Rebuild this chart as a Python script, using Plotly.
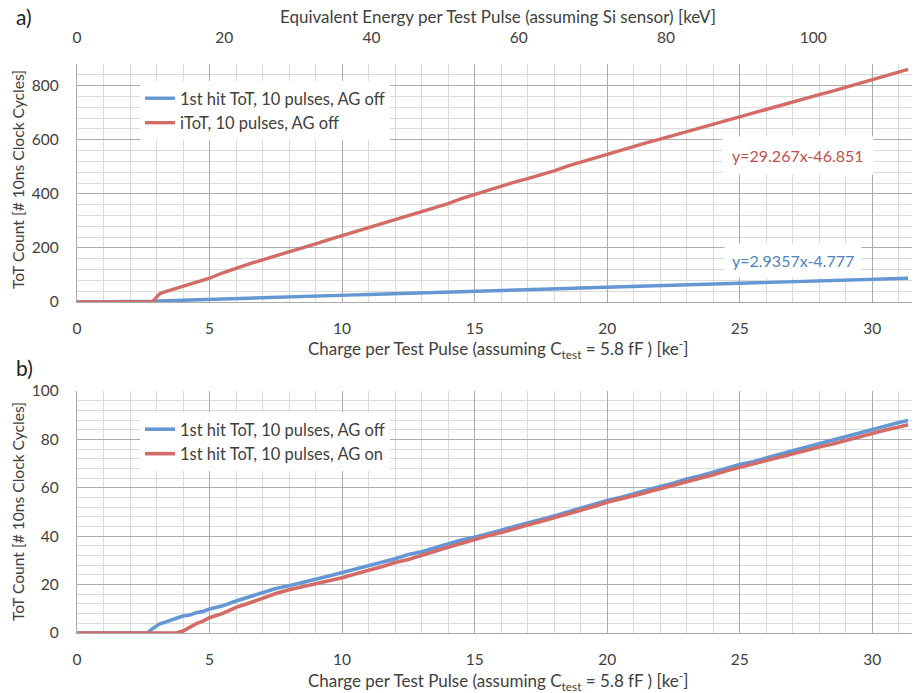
import plotly.graph_objects as go

# Charge per test pulse [ke-]
charge_ke = [0, 0.5, 1, 1.5, 2, 2.5, 2.65, 2.8, 2.9, 3.0, 3.1, 3.25, 3.5, 3.75, 4.0, 4.25, 4.5, 4.75, 5.0,
             5.5, 6.0, 6.5, 7.0, 7.5, 8.0, 8.5, 9.0, 9.5, 10.0, 10.5, 11.0, 11.5, 12.0, 12.5, 13.0, 13.5,
             14.0, 14.5, 15.0, 15.5, 16.0, 16.5, 17.0, 17.5, 18.0, 18.5, 19.0, 19.5, 20.0, 20.5, 21.0,
             21.5, 22.0, 22.5, 23.0, 23.5, 24.0, 24.5, 25.0, 25.5, 26.0, 26.5, 27.0, 27.5, 28.0, 28.5,
             29.0, 29.5, 30.0, 30.5, 31.0, 31.35]

# 1st hit ToT, 10 pulses, AG off
tot_first_ag_off = [0, 0, 0, 0, 0, 0, 0, 1.4, 2.3, 2.9, 3.7, 4.2, 5.3, 6.1, 7.0, 7.4, 8.4, 8.9, 9.9,
                    11.3, 13.2, 14.9, 16.4, 18.4, 19.5, 21.0, 22.2, 23.6, 25.0, 26.3, 27.5, 29.2, 30.7,
                    32.4, 33.6, 35.3, 36.8, 38.4, 39.6, 41.2, 42.5, 44.0, 45.6, 46.9, 48.4, 50.0, 51.5,
                    53.0, 54.8, 56.0, 57.6, 59.1, 60.5, 61.9, 63.6, 64.9, 66.5, 68.0, 69.6, 70.8, 72.4,
                    73.9, 75.3, 76.8, 78.3, 79.7, 81.2, 82.5, 84.2, 85.6, 87.0, 87.8]

# 1st hit ToT, 10 pulses, AG on
tot_first_ag_on = [0, 0, 0, 0, 0, 0, 0, 0, 0, 0, 0, 0, 0, 0, 0.8, 2.4, 3.9, 4.9, 6.3,
                   8.1, 10.6, 12.4, 14.5, 16.3, 17.9, 19.2, 20.6, 21.6, 22.8, 24.2, 25.9, 27.4, 29.1,
                   30.4, 32.2, 33.8, 35.4, 37.1, 38.6, 40.2, 41.5, 43.2, 44.6, 46.1, 47.6, 49.2, 50.6,
                   52.3, 54.0, 55.2, 56.7, 58.2, 59.6, 61.1, 62.5, 64.1, 65.4, 67.0, 68.5, 69.9, 71.3,
                   72.6, 74.1, 75.3, 76.9, 78.1, 79.6, 80.8, 82.5, 83.9, 85.1, 86.1]

# iToT, 10 pulses, AG off
itot_ag_off = [0, 0, 0, 0, 0, 0, 0, 0, 6, 19, 29, 36, 43, 50, 57, 64, 72, 80, 88,
               108, 126, 141, 156, 170, 184, 199, 215, 231, 246, 260, 275, 290, 304,
               318, 333, 349, 364, 382, 398, 412, 428, 443, 456, 470, 485, 502, 517,
               532, 546, 561, 576, 589, 602, 616, 630, 643, 657, 671, 685, 698, 712,
               726, 740, 753, 767, 780, 794, 807, 821, 835, 849, 860]

fit_itot_text = "y=29.267x-46.851"
fit_tot_text = "y=2.9357x-4.777"
fit_label_pos = {"itot": (27.2, 543), "tot": (27.0, 154)}

KEV_PER_KE = 3.6  # Si sensor: 3.6 eV per e-h pair
X_MAX = 31.5
Y_TOP_MAX = 880
Y_BOT_MAX = 100

BLUE = "#6497d3"
RED = "#d36b66"
FONT = "Lato"
TXT = "#404040"
MAJOR = "#ababab"
MINOR = "#dadada"

W, H = 915, 693
def px(x):
    return x / W
def py(y):
    return 1 - y / H

fig = go.Figure()

# top panel
fig.add_trace(go.Scatter(x=charge_ke, y=tot_first_ag_off, mode="lines", name="1st hit ToT, 10 pulses, AG off",
                         line=dict(color=BLUE, width=3.4), xaxis="x", yaxis="y", legend="legend",
                         legendgroup="a1"))
fig.add_trace(go.Scatter(x=charge_ke, y=itot_ag_off, mode="lines", name="iToT, 10 pulses, AG off",
                         line=dict(color=RED, width=3.4), xaxis="x", yaxis="y", legend="legend",
                         legendgroup="a2"))
# invisible trace on energy axis so that it is drawn
fig.add_trace(go.Scatter(x=[c * KEV_PER_KE for c in charge_ke], y=itot_ag_off, mode="lines",
                         line=dict(color="rgba(0,0,0,0)", width=0), xaxis="x2", yaxis="y",
                         showlegend=False, hoverinfo="skip"))
# bottom panel
fig.add_trace(go.Scatter(x=charge_ke, y=tot_first_ag_off, mode="lines", name="1st hit ToT, 10 pulses, AG off",
                         line=dict(color=BLUE, width=3.6), xaxis="x3", yaxis="y3", legend="legend2",
                         legendgroup="b1"))
fig.add_trace(go.Scatter(x=charge_ke, y=tot_first_ag_on, mode="lines", name="1st hit ToT, 10 pulses, AG on",
                         line=dict(color=RED, width=3.6), xaxis="x3", yaxis="y3", legend="legend2",
                         legendgroup="b2"))

xdom = [px(77), px(912)]
top_dom = [py(302), py(64)]
bot_dom = [py(633), py(391)]

tickfont = dict(family=FONT, size=15.5, color=TXT)

def xax(dom_anchor):
    return dict(domain=xdom, anchor=dom_anchor, range=[0, X_MAX], tickmode="linear", tick0=0, dtick=5,
                showgrid=True, gridcolor=MAJOR, gridwidth=1.3,
                minor=dict(dtick=1, showgrid=True, gridcolor=MINOR, gridwidth=1.2),
                showline=True, linecolor=MAJOR, linewidth=1.3, zeroline=False, automargin=False,
                tickfont=tickfont, ticks="", ticklabelstandoff=12)

def yax(dom, rng, dt, mdt, anchor):
    return dict(domain=dom, anchor=anchor, range=rng, tickmode="linear", tick0=0, dtick=dt,
                showgrid=True, gridcolor=MAJOR, gridwidth=1.3,
                minor=dict(dtick=mdt, showgrid=True, gridcolor=MINOR, gridwidth=1.2),
                showline=True, linecolor=MAJOR, linewidth=1.3, zeroline=False, automargin=False,
                tickfont=tickfont, ticks="", ticklabelstandoff=14)

legfont = dict(family=FONT, size=16.5, color=TXT)
fig.update_layout(
    width=W, height=H,
    margin=dict(l=0, r=0, t=0, b=0, autoexpand=False),
    paper_bgcolor="white", plot_bgcolor="white",
    font=dict(family=FONT, color=TXT),
    xaxis=xax("y"),
    xaxis2=dict(overlaying="x", side="top", anchor="y", range=[0, X_MAX * KEV_PER_KE],
                tickmode="linear", tick0=0, dtick=20, showgrid=False, zeroline=False, showline=False,
                automargin=False, tickfont=tickfont, ticks="", ticklabelstandoff=17),
    yaxis=yax(top_dom, [0, Y_TOP_MAX], 200, 40, "x"),
    xaxis3=xax("y3"),
    yaxis3=yax(bot_dom, [0, Y_BOT_MAX], 20, 4, "x3"),
    legend=dict(x=px(140), y=py(81), xanchor="left", yanchor="top", bgcolor="white",
                font=legfont, tracegroupgap=0, itemwidth=30),
    legend2=dict(x=px(140), y=py(412), xanchor="left", yanchor="top", bgcolor="white",
                 font=legfont, tracegroupgap=0, itemwidth=30),
    showlegend=True,
)

ann = []
def note(text, x, y, size=17, color=TXT, angle=0):
    ann.append(dict(text=text, x=px(x), y=py(y), xref="paper", yref="paper", xanchor="center",
                    yanchor="middle", showarrow=False, textangle=angle,
                    font=dict(family=FONT, size=size, color=color)))

note("a)", 24, 17, size=21, color="#222")
note("b)", 24, 367, size=21, color="#222")
note("Equivalent Energy per Test Pulse (assuming Si sensor) [keV]", 498, 17)
xtitle = "Charge per Test Pulse (assuming C<sub>test</sub> = 5.8 fF ) [ke<sup>-</sup>]"
note(xtitle, 498, 349)
note(xtitle, 498, 681)
ytitle = "ToT Count [# 10ns Clock Cycles]"
note(ytitle, 18, 180, size=15.6, angle=-90)
note(ytitle, 18, 512, size=15.6, angle=-90)

ann.append(dict(text=fit_itot_text, x=fit_label_pos["itot"][0], y=fit_label_pos["itot"][1], xref="x", yref="y",
                xanchor="center", yanchor="middle",
                showarrow=False, bgcolor="white", borderpad=9, font=dict(family=FONT, size=16, color="#c0504d")))
ann.append(dict(text=fit_tot_text, x=fit_label_pos["tot"][0], y=fit_label_pos["tot"][1], xref="x", yref="y",
                xanchor="center", yanchor="middle",
                showarrow=False, bgcolor="white", borderpad=7, font=dict(family=FONT, size=16, color="#4f81bd")))
fig.update_layout(annotations=ann)

fig.write_html("out.html", config={"displayModeBar": False},
               post_script="document.body.style.margin='0';document.body.style.padding='0';"
                           "document.documentElement.style.overflow='hidden';")
